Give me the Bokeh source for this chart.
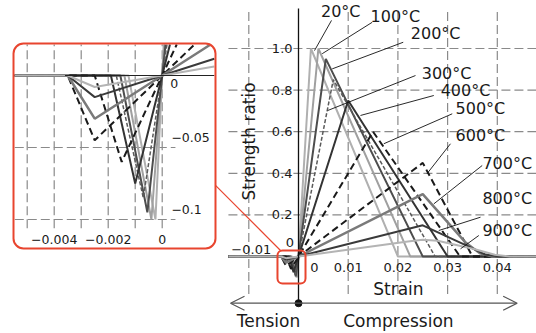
import numpy as np
from bokeh.plotting import figure
from bokeh.models import Range1d, BoxAnnotation, Arrow, OpenHead
from bokeh.core.properties import value
from bokeh.embed import file_html
from bokeh.resources import INLINE

# ---------------- data ----------------
temps = ["20°C", "100°C", "200°C", "300°C", "400°C", "500°C", "600°C", "700°C", "800°C", "900°C"]
# compression branch (strain, strength ratio), starting at origin
comp_strain = [
    [0, 0.0025, 0.0200],
    [0, 0.0040, 0.0225],
    [0, 0.0055, 0.0250],
    [0, 0.0070, 0.0275],
    [0, 0.0100, 0.0300],
    [0, 0.0150, 0.0325],
    [0, 0.0250, 0.0350],
    [0, 0.0250, 0.0335, 0.0365, 0.0390],
    [0, 0.0250, 0.0345, 0.0375, 0.0405],
    [0, 0.0220, 0.0250, 0.0280, 0.0355, 0.0395, 0.0425],
]
comp_ratio = [
    [0, 1.00, 0],
    [0, 1.00, 0],
    [0, 0.95, 0],
    [0, 0.85, 0],
    [0, 0.75, 0],
    [0, 0.60, 0],
    [0, 0.45, 0],
    [0, 0.30, 0.07, 0.015, 0],
    [0, 0.15, 0.045, 0.010, 0],
    [0, 0.072, 0.080, 0.076, 0.035, 0.008, 0],
]
# tension branch
ten_zero_strain = [-0.00125, -0.0014, -0.00155, -0.0017, -0.0019, -0.0025, -0.0035, -0.0035, -0.0035, -0.0035]
ten_peak_strain = [-0.00025, -0.0004, -0.00055, -0.0007, -0.0010, -0.0015, -0.0025, -0.0025, -0.0025, -0.0025]
ten_peak_ratio = [-0.100, -0.100, -0.095, -0.085, -0.075, -0.060, -0.045, -0.030, -0.015, -0.008]

main_x_ticks = [-0.01, 0.01, 0.02, 0.03, 0.04]
main_x_labels = ["0", "0.01", "0.02", "0.03", "0.04"]
main_x_label_vals = [0.0, 0.01, 0.02, 0.03, 0.04]
main_y_ticks = [0.2, 0.4, 0.6, 0.8, 1.0]
main_y_labels = ["0.2", "0.4", "0.6", "0.8", "1.0"]
inset_x_ticks = [-0.005, -0.004, -0.003, -0.002, -0.001, 0.0]
inset_x_label_vals = [-0.004, -0.002, 0.0]
inset_x_labels = ["−0.004", "−0.002", "0"]
inset_y_ticks = [-0.05, -0.1]
inset_y_labels = ["0", "−0.05", "−0.1"]
inset_y_label_vals = [0.0, -0.05, -0.1]

# ---------------- styles ----------------
colors = ["#b0b0b0", "#a0a0a0", "#4d4d4d", "#5a5a5a", "#333333", "#1a1a1a", "#1a1a1a", "#7a7a7a", "#3a3a3a", "#b4b4b4"]
dashes = ["solid", "solid", "solid", "4 2", "solid", "7 4", "7 4", "solid", "solid", "solid"]
widths = [2, 2, 2, 1.5, 2, 2, 2, 2.5, 2, 2]
grid_col = "#8a8a8a"
grid_dash = "9 4"
red = "#e8452f"
FONT = value("DejaVu Sans")

# ---------------- layout (ranges) ----------------
W, H = 536, 333
main_xr = (-0.059960, 0.047887)
main_yr = (-0.37019, 1.23077)
inset_xr = (-0.0059889, 0.0138630)
inset_yr = (-0.1791667, 0.0520833)
main_left, main_right = -0.0141, 0.048
main_top = 1.192
clip_box = (-0.00546, 0.00193, -0.119, 0.0215)  # inset clip rectangle (inset units)

p = figure(width=W, height=H, x_range=Range1d(*main_xr), y_range=Range1d(*main_yr),
           output_backend="svg", toolbar_location=None, min_border=0,
           x_axis_location=None, y_axis_location=None)
p.grid.visible = False
p.outline_line_color = None
p.background_fill_color = "white"
p.border_fill_color = "white"
p.extra_x_ranges = {"ix": Range1d(*inset_xr)}
p.extra_y_ranges = {"iy": Range1d(*inset_yr)}


def curve(i, left):
    xs = [left, ten_zero_strain[i], ten_peak_strain[i]] + list(comp_strain[i]) + [main_right]
    ys = [0, 0, ten_peak_ratio[i]] + list(comp_ratio[i]) + [0]
    return xs, ys


def lb_clip(x0, y0, x1, y1, xmin, xmax, ymin, ymax):
    dx, dy = x1 - x0, y1 - y0
    t0, t1 = 0.0, 1.0
    for pp, qq in ((-dx, x0 - xmin), (dx, xmax - x0), (-dy, y0 - ymin), (dy, ymax - y0)):
        if pp == 0:
            if qq < 0:
                return None
        else:
            t = qq / pp
            if pp < 0:
                if t > t1:
                    return None
                t0 = max(t0, t)
            else:
                if t < t0:
                    return None
                t1 = min(t1, t)
    if t1 - t0 < 1e-12:
        return None
    return (x0 + t0 * dx, y0 + t0 * dy, x0 + t1 * dx, y0 + t1 * dy)


def clip_polyline(xs, ys, box):
    xmin, xmax, ymin, ymax = box
    pieces, cx, cy = [], [], []
    for k in range(len(xs) - 1):
        seg = lb_clip(xs[k], ys[k], xs[k + 1], ys[k + 1], xmin, xmax, ymin, ymax)
        if seg is None:
            if cx:
                pieces.append((cx, cy))
                cx, cy = [], []
            continue
        ax, ay, bx, by = seg
        if cx and abs(cx[-1] - ax) < 1e-12 and abs(cy[-1] - ay) < 1e-12:
            cx.append(bx); cy.append(by)
        else:
            if cx:
                pieces.append((cx, cy))
            cx, cy = [ax, bx], [ay, by]
    if cx:
        pieces.append((cx, cy))
    return pieces


# ---------------- main gridlines ----------------
p.segment(x0=main_x_ticks, x1=main_x_ticks, y0=[-0.18] * len(main_x_ticks), y1=[main_top] * len(main_x_ticks),
          line_color=grid_col, line_dash=grid_dash, line_width=1.2)
p.segment(x0=[main_left] * len(main_y_ticks), x1=[main_right] * len(main_y_ticks), y0=main_y_ticks, y1=main_y_ticks,
          line_color=grid_col, line_dash=grid_dash, line_width=1.2)

# ---------------- inset gridlines ----------------
p.segment(x0=inset_x_ticks, x1=inset_x_ticks, y0=[-0.106] * len(inset_x_ticks), y1=[clip_box[3]] * len(inset_x_ticks),
          line_color=grid_col, line_dash=grid_dash, line_width=1.2, x_range_name="ix", y_range_name="iy")
p.segment(x0=[clip_box[0]] * len(inset_y_ticks), x1=[0.00049] * len(inset_y_ticks), y0=inset_y_ticks, y1=inset_y_ticks,
          line_color=grid_col, line_dash=grid_dash, line_width=1.2, x_range_name="ix", y_range_name="iy")

# ---------------- curves ----------------
for i in range(len(temps)):
    xs, ys = curve(i, main_left)
    p.line(xs, ys, line_color=colors[i], line_dash=dashes[i], line_width=widths[i])
    pieces = clip_polyline(xs, ys, clip_box)
    if pieces:
        p.multi_line(xs=[a for a, b in pieces], ys=[b for a, b in pieces], line_color=colors[i],
                     line_dash=dashes[i], line_width=widths[i], x_range_name="ix", y_range_name="iy")

# inset zero axis
p.line([-0.0036, clip_box[1]], [0, 0], line_color="#222222", line_width=1.2, x_range_name="ix", y_range_name="iy")

# main vertical axis + dot + arrow
p.line([0, 0], [-0.2245, main_top], line_color="#111111", line_width=1.3)
p.add_layout(Arrow(start=OpenHead(size=14, line_color="#555555", line_width=1.2),
                   end=OpenHead(size=14, line_color="#555555", line_width=1.2),
                   x_start=-0.01368, y_start=-0.2245, x_end=0.0440, y_end=-0.2245,
                   line_color="#555555", line_width=1.2))
p.scatter(x=[0], y=[-0.2245], size=7, color="#111111")

# ---------------- main texts ----------------
tick_font = value("13px")
p.text(x=[v + (0.0032 if v == 0 else 0) for v in main_x_label_vals], y=[-0.053] * len(main_x_labels), text=main_x_labels,
       text_font=FONT, text_font_size=tick_font, text_align="center", text_baseline="middle", text_color="#1a1a1a")
p.text(x=[-0.0095], y=[0.034], text=["−0.01"], text_font=FONT, text_font_size=tick_font,
       text_align="center", text_baseline="middle", text_color="#1a1a1a")
p.text(x=[-0.0012] * len(main_y_ticks), y=main_y_ticks, text=main_y_labels, text_font=FONT, text_font_size=tick_font,
       text_align="right", text_baseline="middle", text_color="#1a1a1a")
p.text(x=[-0.0009], y=[0.067], text=["0"], text_font=FONT, text_font_size=tick_font,
       text_align="right", text_baseline="middle", text_color="#1a1a1a")

big = value("17px")
p.text(x=[-0.00986], y=[0.553], text=["Strength ratio"], angle=np.pi / 2, text_font=FONT, text_font_size=big,
       text_align="center", text_baseline="middle", text_color="#1a1a1a")
p.text(x=[0.0201], y=[-0.154], text=["Strain"], text_font=FONT, text_font_size=big,
       text_align="center", text_baseline="middle", text_color="#1a1a1a")
p.text(x=[-0.00604, 0.0201], y=[-0.3077, -0.3077], text=["Tension", "Compression"], text_font=FONT, text_font_size=big,
       text_align="center", text_baseline="middle", text_color="#1a1a1a")

# temperature labels and leaders
lab_x = [0.0085, 0.0195, 0.0276, 0.0298, 0.0336, 0.0366, 0.0366, 0.0420, 0.0420, 0.0420]
lab_y = [1.176, 1.154, 1.072, 0.882, 0.798, 0.7115, 0.582, 0.447, 0.279, 0.125]
ld_x0 = [0.00664, 0.01483, 0.02107, 0.02354, 0.02722, 0.03093, 0.03058, 0.03696, 0.03662, 0.03628]
ld_y0 = [1.135, 1.126, 1.030, 0.870, 0.774, 0.686, 0.542, 0.4375, 0.189, 0.101]
ld_x1 = [0.00322, 0.00477, 0.00678, 0.00590, 0.01247, 0.01716, 0.02586, 0.02722, 0.02823, 0.0326]
ld_y1 = [0.990, 0.975, 0.902, 0.702, 0.678, 0.542, 0.398, 0.253, 0.125, 0.037]
p.segment(x0=ld_x0, y0=ld_y0, x1=ld_x1, y1=ld_y1, line_color="#111111", line_width=0.9)
p.text(x=lab_x, y=lab_y, text=temps, text_font=FONT, text_font_size=value("16px"),
       text_align="center", text_baseline="middle", text_color="#1a1a1a")

# ---------------- inset texts ----------------
small = value("12.5px")
p.text(x=inset_x_label_vals, y=[-0.114] * 3, text=inset_x_labels, text_font=FONT, text_font_size=small,
       text_align="center", text_baseline="middle", text_color="#1a1a1a", x_range_name="ix", y_range_name="iy")
p.text(x=[0.0003, 0.00034, 0.00034], y=[v + off for v, off in zip(inset_y_label_vals, [-0.0056, 0.007, 0.007])],
       text=inset_y_labels, text_font=FONT, text_font_size=small,
       text_align="left", text_baseline="middle", text_color="#1a1a1a", x_range_name="ix", y_range_name="iy")

# ---------------- red boxes and leader ----------------
p.add_layout(BoxAnnotation(left=-0.005507, right=0.001974, top=0.02222, bottom=-0.12014,
                           x_range_name="ix", y_range_name="iy", fill_color=None, fill_alpha=0,
                           line_color=red, line_alpha=1.0, line_width=2, border_radius=10))
p.add_layout(BoxAnnotation(left=-0.00423, right=0.00141, top=0.0289, bottom=-0.130,
                           fill_color=None, fill_alpha=0, line_color=red, line_alpha=1.0, line_width=2,
                           border_radius=5))
p.line([-0.0167, -0.00362], [0.342, 0.0289], line_color=red, line_width=1.2)

open("out.html", "w").write(file_html(p, INLINE))
